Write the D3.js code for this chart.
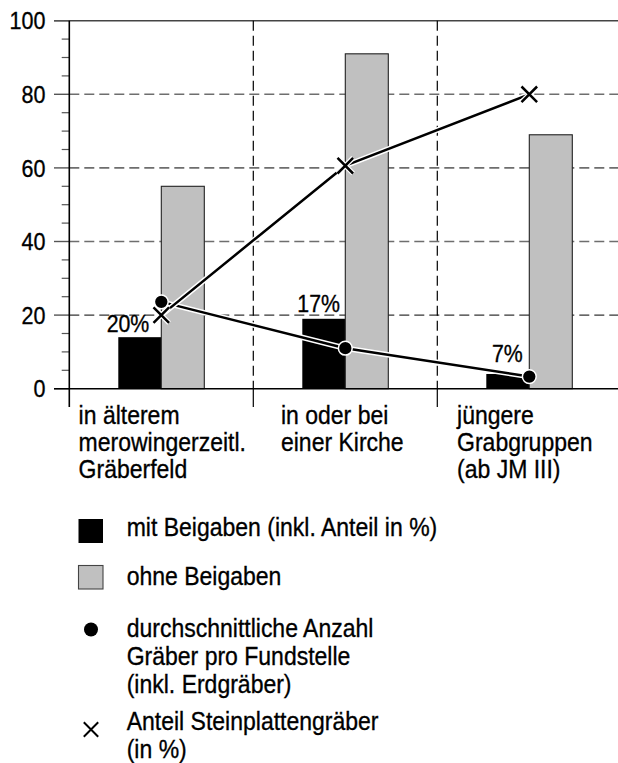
<!DOCTYPE html>
<html><head><meta charset="utf-8">
<script src="https://cdn.jsdelivr.net/npm/d3@7"></script>
<style>
html,body{margin:0;padding:0;background:#fff;}
svg{display:block;}
text{font-family:"Liberation Sans",Arial,Helvetica,sans-serif;fill:#000;stroke:#000;stroke-width:0.3px;}
</style></head>
<body>
<script>
// ---- data ----
const categories = [
  ["in älterem","merowingerzeitl.","Gräberfeld"],
  ["in oder bei","einer Kirche"],
  ["jüngere","Grabgruppen","(ab JM III)"]
];
const mitBeigaben = [14, 19, 4];
const ohneBeigaben = [55, 91, 69];
const mitBeigabenPct = ["20%", "17%", "7%"];
const anzahlGraeber = [23.6, 11, 3.3];
const steinplatten = [20, 60.6, 80];
const yTicks = [0, 20, 40, 60, 80, 100];
const legendLabels = [
  ["mit Beigaben (inkl. Anteil in %)"],
  ["ohne Beigaben"],
  ["durchschnittliche Anzahl","Gräber pro Fundstelle","(inkl. Erdgräber)"],
  ["Anteil Steinplattengräber","(in %)"]
];

// ---- layout ----
const W = 618, H = 763, SY = 1.13;
const svg = d3.select("body").append("svg").attr("width", W).attr("height", H);
const x = d3.scaleBand().domain(d3.range(categories.length)).range([69.3, 621.3]).padding(0);
const y = d3.scaleLinear().domain([0, 100]).range([388.7, 20.7]);
const sub = d3.scaleBand().domain(["mit","ohne"]).range([49, 135]).padding(0);

function stext(g, tx, ty, str, size, anchor) {
  return g.append("text")
    .attr("transform", `translate(${tx},${ty}) scale(1,${SY})`)
    .attr("font-size", size)
    .attr("text-anchor", anchor || "start")
    .text(str);
}

// horizontal gridlines
[20, 40, 60, 80].forEach(v => {
  svg.append("line").attr("x1", 69.3).attr("x2", W).attr("y1", y(v)).attr("y2", y(v))
    .attr("stroke", v === 20 ? "#000" : "#6e6e6e")
    .attr("stroke-width", v === 20 ? 1 : 1.6)
    .attr("stroke-dasharray", "10,5");
});
// top border
svg.append("line").attr("x1", 54).attr("x2", W).attr("y1", y(100)).attr("y2", y(100))
  .attr("stroke", "#444").attr("stroke-width", 1.5);

// minor ticks
d3.range(5, 100, 5).filter(v => v % 20 !== 0).forEach(v => {
  svg.append("line").attr("x1", 61.7).attr("x2", 69.3).attr("y1", y(v)).attr("y2", y(v))
    .attr("stroke", "#555").attr("stroke-width", 1.2);
});
// major ticks + labels
yTicks.forEach(v => {
  svg.append("line").attr("x1", 54).attr("x2", 69.3).attr("y1", y(v)).attr("y2", y(v))
    .attr("stroke", "#555").attr("stroke-width", 1.4);
  stext(svg, 45.5, y(v) + 8.6, String(v), 21.5, "end");
});

// vertical dividers
categories.forEach((c, i) => {
  if (i === 0) return;
  const xx = x(i);
  svg.append("line").attr("x1", xx).attr("x2", xx).attr("y1", y(100)).attr("y2", y(0))
    .attr("stroke", "#000").attr("stroke-width", 1.2).attr("stroke-dasharray", "10,5");
  svg.append("line").attr("x1", xx).attr("x2", xx).attr("y1", y(0)).attr("y2", 407)
    .attr("stroke", "#000").attr("stroke-width", 1.2);
});

// bars
const bars = svg.append("g");
categories.forEach((c, i) => {
  bars.append("rect").attr("x", x(i) + sub("mit")).attr("width", sub.bandwidth())
    .attr("y", y(mitBeigaben[i])).attr("height", y(0) - y(mitBeigaben[i]))
    .attr("fill", "#000");
  bars.append("rect").attr("x", x(i) + sub("ohne")).attr("width", sub.bandwidth())
    .attr("y", y(ohneBeigaben[i])).attr("height", y(0) - y(ohneBeigaben[i]))
    .attr("fill", "#c0c0c0").attr("stroke", "#222").attr("stroke-width", 1.1);
});

// axes lines
svg.append("line").attr("x1", 54).attr("x2", W).attr("y1", y(0)).attr("y2", y(0))
  .attr("stroke", "#000").attr("stroke-width", 1.6);
svg.append("line").attr("x1", 69.3).attr("x2", 69.3).attr("y1", y(100)).attr("y2", 407)
  .attr("stroke", "#000").attr("stroke-width", 1.6);

// percentage labels
const pctDx = [-12, -5.3, -6.6], pctDy = [-4.7, -6.6, -11.7];
mitBeigabenPct.forEach((p, i) => {
  stext(svg, x(i) + sub("ohne") + pctDx[i], y(mitBeigaben[i]) + pctDy[i], p, 21.3, "end");
});

// lines
const cx = i => x(i) + x.bandwidth() / 2;
const line = d3.line().x((d, i) => cx(i)).y(d => y(d));
function haloLine(data) {
  svg.append("path").attr("d", line(data)).attr("fill", "none")
    .attr("stroke", "#fff").attr("stroke-width", 5.5).attr("stroke-linejoin", "round");
  svg.append("path").attr("d", line(data)).attr("fill", "none")
    .attr("stroke", "#000").attr("stroke-width", 2.5).attr("stroke-linejoin", "round");
}
haloLine(anzahlGraeber);
haloLine(steinplatten);

// crosses
function cross(g, px, py, s, w) {
  const p = `M${px - s},${py - s}L${px + s},${py + s}M${px - s},${py + s}L${px + s},${py - s}`;
  g.append("path").attr("d", p).attr("stroke", "#fff").attr("stroke-width", w + 2.5).attr("fill", "none");
  g.append("path").attr("d", p).attr("stroke", "#000").attr("stroke-width", w).attr("fill", "none");
}
steinplatten.forEach((v, i) => cross(svg, cx(i), y(v), 7.8, 2.5));
// dots
anzahlGraeber.forEach((v, i) => {
  svg.append("circle").attr("cx", cx(i)).attr("cy", y(v)).attr("r", 6.9)
    .attr("fill", "#000").attr("stroke", "#fff").attr("stroke-width", 1.5);
});

// category labels
const catDx = [4, 0, -1.5];
categories.forEach((lines, i) => {
  const g = svg.append("g");
  const ts = lines.map((l, k) => stext(g, 0, 424.3 + k * 26.7, l, 23));
  const maxW = d3.max(ts, t => t.node().getComputedTextLength());
  const left = cx(i) - maxW / 2 - 3 + catDx[i];
  ts.forEach((t, k) => t.attr("transform", `translate(${left},${424.3 + k * 26.7}) scale(1,${SY})`));
});

// legend
const lg = svg.append("g");
const lx = 126.7;
const legendBase = [536, 585, 637, 729.5];
const lineStep = 28;
lg.append("rect").attr("x", 78.5).attr("y", 519).attr("width", 24.5).attr("height", 24).attr("fill", "#000");
lg.append("rect").attr("x", 78.5).attr("y", 565.5).attr("width", 24.5).attr("height", 23.5)
  .attr("fill", "#c0c0c0").attr("stroke", "#444").attr("stroke-width", 1.1);
lg.append("circle").attr("cx", 91).attr("cy", 629.5).attr("r", 7).attr("fill", "#000");
cross(lg, 91, 729.5, 7.2, 2);
legendLabels.forEach((lines, i) => {
  lines.forEach((l, k) => stext(lg, lx, legendBase[i] + k * lineStep, l, 23));
});
</script>
</body></html>
